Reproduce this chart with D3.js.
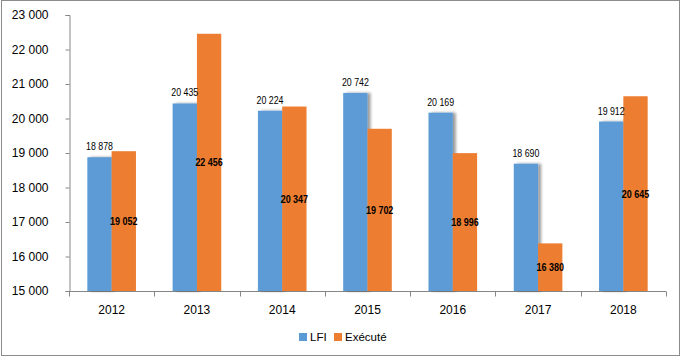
<!DOCTYPE html>
<html>
<head>
<meta charset="utf-8">
<script src="https://cdn.jsdelivr.net/npm/d3@7"></script>
<style>
  body { margin: 0; background: #fff; }
  svg { display: block; }
</style>
</head>
<body>
<svg id="chart" width="682" height="358"></svg>
<script>
// data
var years = ["2012", "2013", "2014", "2015", "2016", "2017", "2018"];
var lfi = [18878, 20435, 20224, 20742, 20169, 18690, 19912];
var execute = [19052, 22456, 20347, 19702, 18996, 16380, 20645];
var yTicks = [15000, 16000, 17000, 18000, 19000, 20000, 21000, 22000, 23000];
var seriesNames = ["LFI", "Exécuté"];

var blue = "#5B9BD5", orange = "#ED7D31", axisColor = "#868686";
var sans = "'Liberation Sans', Arial, sans-serif";

var svg = d3.select("#chart");

// outer frame
svg.append("rect")
    .attr("x", 1.5).attr("y", 0.5)
    .attr("width", 678).attr("height", 355)
    .attr("fill", "#fff")
    .attr("stroke", "#8c8c8c")
    .attr("stroke-width", 1);

var defs = svg.append("defs");
var shadow = defs.append("filter")
    .attr("id", "barShadow")
    .attr("x", "-20%").attr("y", "-10%")
    .attr("width", "160%").attr("height", "120%");
shadow.append("feGaussianBlur").attr("in", "SourceAlpha").attr("stdDeviation", 1.6).attr("result", "blur");
shadow.append("feOffset").attr("in", "blur").attr("dx", 3).attr("dy", 0).attr("result", "off");
shadow.append("feComponentTransfer").attr("in", "off").attr("result", "soft")
    .append("feFuncA").attr("type", "linear").attr("slope", 0.4);
var merge = shadow.append("feMerge");
merge.append("feMergeNode").attr("in", "soft");
merge.append("feMergeNode").attr("in", "SourceGraphic");

var y = d3.scaleLinear().domain([15000, 23000]).range([291, 15]);
var x = d3.scaleBand().domain(years).range([69, 666]).paddingInner(0.43).paddingOuter(0.215);
var x1 = d3.scaleBand().domain(seriesNames).range([0, x.bandwidth()]);

var fmt = function(v) { return d3.format(",")(v).replace(/,/g, " "); };

// y axis
var yAxis = d3.axisLeft(y).tickValues(yTicks).tickSize(4).tickPadding(17).tickFormat(fmt);
var gy = svg.append("g").attr("transform", "translate(69.5,0)").call(yAxis);
gy.select(".domain").attr("stroke", axisColor);
gy.selectAll(".tick line").attr("stroke", axisColor);
gy.selectAll(".tick text")
    .attr("fill", "#000")
    .style("font-family", sans)
    .style("font-size", "12px");

// x axis
var gx = svg.append("g").attr("transform", "translate(0,291.5)");
gx.append("line")
    .attr("x1", 69).attr("x2", 666)
    .attr("stroke", axisColor);
gx.selectAll("line.tk")
    .data(d3.range(years.length + 1))
    .enter().append("line")
    .attr("class", "tk")
    .attr("x1", i => Math.round(x.step() * i + 69) + 0.5)
    .attr("x2", i => Math.round(x.step() * i + 69) + 0.5)
    .attr("y1", 0).attr("y2", 5)
    .attr("stroke", axisColor);
gx.selectAll("text")
    .data(years)
    .enter().append("text")
    .attr("x", d => x(d) + x.bandwidth() / 2)
    .attr("y", 22)
    .attr("text-anchor", "middle")
    .style("font-family", sans)
    .style("font-size", "12px")
    .text(d => d);

// bars
svg.selectAll("rect.lfi")
    .data(years)
    .enter().append("rect")
    .attr("class", "lfi")
    .attr("x", (d, i) => x(d) + x1("LFI"))
    .attr("y", (d, i) => y(lfi[i]))
    .attr("width", x1.bandwidth())
    .attr("height", (d, i) => y(15000) - y(lfi[i]))
    .attr("fill", blue)
    .attr("filter", "url(#barShadow)");

svg.selectAll("rect.exe")
    .data(years)
    .enter().append("rect")
    .attr("class", "exe")
    .attr("x", (d, i) => x(d) + x1("Exécuté"))
    .attr("y", (d, i) => y(execute[i]))
    .attr("width", x1.bandwidth())
    .attr("height", (d, i) => y(15000) - y(execute[i]))
    .attr("fill", orange);

// value labels (condensed like Arial Narrow)
svg.selectAll("text.lfiLab")
    .data(years)
    .enter().append("text")
    .attr("class", "lfiLab")
    .attr("transform", (d, i) => "translate(" + (x(d) + x1("LFI") + x1.bandwidth() / 2) + "," + (y(lfi[i]) - 7) + ") scale(0.8,1)")
    .attr("text-anchor", "middle")
    .style("font-family", sans)
    .style("font-size", "11px")
    .text((d, i) => fmt(lfi[i]));

svg.selectAll("text.exeLab")
    .data(years)
    .enter().append("text")
    .attr("class", "exeLab")
    .attr("transform", (d, i) => "translate(" + (x(d) + x1("Exécuté") + x1.bandwidth() / 2) + "," + ((y(execute[i]) + y(15000)) / 2 + 4) + ") scale(0.78,1)")
    .attr("text-anchor", "middle")
    .style("font-family", sans)
    .style("font-size", "11.5px")
    .style("font-weight", "bold")
    .text((d, i) => fmt(execute[i]));

// legend
var legend = svg.append("g").attr("transform", "translate(299,337)");
var items = legend.selectAll("g")
    .data(seriesNames)
    .enter().append("g")
    .attr("transform", (d, i) => "translate(" + (i * 35) + ",0)");
items.append("rect")
    .attr("x", 0).attr("y", -4)
    .attr("width", 8).attr("height", 8)
    .attr("fill", (d, i) => i === 0 ? blue : orange);
items.append("text")
    .attr("x", 11).attr("y", 4)
    .style("font-family", sans)
    .style("font-size", "11.5px")
    .text(d => d);
</script>
</body>
</html>
